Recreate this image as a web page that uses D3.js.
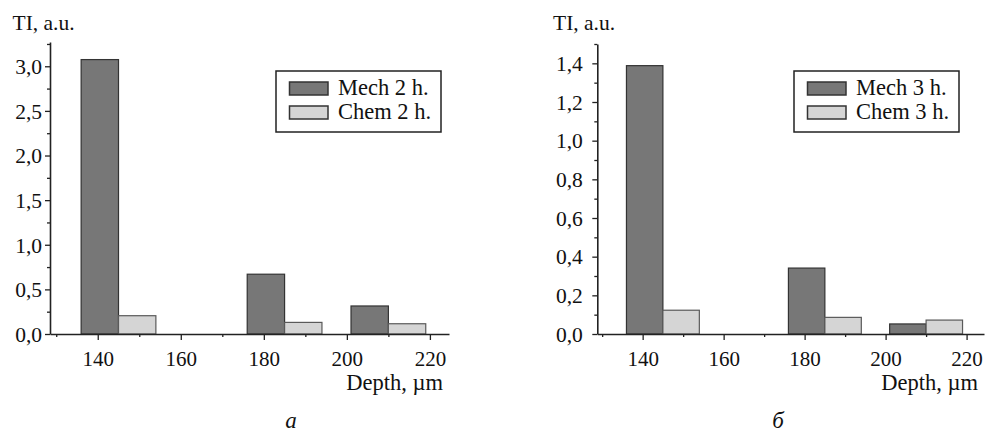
<!DOCTYPE html>
<html>
<head>
<meta charset="utf-8">
<script src="https://cdn.jsdelivr.net/npm/d3@7"></script>
<style>
  html, body { margin: 0; padding: 0; background: #fff; }
  svg { display: block; }
  svg text { font-family: "Liberation Serif", serif; fill: #111; }
</style>
</head>
<body>
<svg id="chart" width="986" height="432"></svg>
<script>
// ---------- DATA ----------
const groupDepths = [145, 185, 210];          // µm, boundary between the Mech / Chem bar of each group
const barWidthDepth = 9;                       // µm width of each bar

const mech2h = [3.075, 0.67, 0.314];
const chem2h = [0.205, 0.13, 0.115];
const mech3h = [1.388, 0.341, 0.052];
const chem3h = [0.123, 0.086, 0.072];

const seriesNamesA = ["Mech 2 h.", "Chem 2 h."];
const seriesNamesB = ["Mech 3 h.", "Chem 3 h."];

const xMajorTicks = [140, 160, 180, 200, 220];
const xMinorTicks = [130, 150, 170, 190, 210];
const xTickLabels = ["140", "160", "180", "200", "220"];

const yMajorTicksA = [0, 0.5, 1.0, 1.5, 2.0, 2.5, 3.0];
const yMinorTicksA = [0.25, 0.75, 1.25, 1.75, 2.25, 2.75, 3.25];
const yTickLabelsA = ["0,0", "0,5", "1,0", "1,5", "2,0", "2,5", "3,0"];

const yMajorTicksB = [0, 0.2, 0.4, 0.6, 0.8, 1.0, 1.2, 1.4];
const yMinorTicksB = [0.1, 0.3, 0.5, 0.7, 0.9, 1.1, 1.3, 1.5];
const yTickLabelsB = ["0,0", "0,2", "0,4", "0,6", "0,8", "1,0", "1,2", "1,4"];

const yTitle = "TI, a.u.";
const xTitle = "Depth, \u00b5m";
const panelLabels = ["\u0430", "\u0431"];

// ---------- STYLE ----------
const FONT = '"Liberation Serif", serif';
const MECH_FILL = "#777777", MECH_STROKE = "#333333";
const CHEM_FILL = "#d5d5d5", CHEM_STROKE = "#5a5a5a";
const AXIS = "#222";

const svg = d3.select("#chart");

function drawPanel(cfg) {
  const g = svg.append("g");
  const x = d3.scaleLinear().domain(cfg.xDomain).range([cfg.left, cfg.right]);
  const y = d3.scaleLinear().domain(cfg.yDomain).range([cfg.bottom, cfg.top]);

  const rows = groupDepths.map((d, i) => ({ d, mech: cfg.mech[i], chem: cfg.chem[i] }));
  g.selectAll("rect.mech").data(rows).join("rect")
    .attr("x", r => x(r.d - barWidthDepth))
    .attr("y", r => y(r.mech))
    .attr("width", r => x(r.d) - x(r.d - barWidthDepth))
    .attr("height", r => y(0) - y(r.mech))
    .attr("fill", MECH_FILL).attr("stroke", MECH_STROKE).attr("stroke-width", 1.2);
  g.selectAll("rect.chem").data(rows).join("rect")
    .attr("x", r => x(r.d))
    .attr("y", r => y(r.chem))
    .attr("width", r => x(r.d + barWidthDepth) - x(r.d))
    .attr("height", r => y(0) - y(r.chem))
    .attr("fill", CHEM_FILL).attr("stroke", CHEM_STROKE).attr("stroke-width", 1.2);

  const xAx = g.append("g").attr("transform", `translate(0,${cfg.bottom})`)
    .call(d3.axisBottom(x).tickValues(xMajorTicks).tickSize(6).tickSizeOuter(0)
      .tickFormat((d, i) => xTickLabels[i]));
  xAx.attr("font-family", null).attr("font-size", null);
  xAx.select(".domain").attr("stroke", AXIS).attr("stroke-width", 1.6);
  xAx.selectAll(".tick line").attr("stroke", AXIS).attr("stroke-width", 1.3);
  xAx.selectAll(".tick text").attr("y", 32).attr("dy", 0)
    .style("font-family", FONT).style("font-size", "21px").attr("fill", "#111");
  const xMin = g.append("g").attr("transform", `translate(0,${cfg.bottom})`)
    .call(d3.axisBottom(x).tickValues(xMinorTicks).tickSize(3).tickSizeOuter(0).tickFormat(""));
  xMin.select(".domain").remove();
  xMin.selectAll(".tick line").attr("stroke", AXIS).attr("stroke-width", 1.3);

  const yAx = g.append("g").attr("transform", `translate(${cfg.left},0)`)
    .call(d3.axisLeft(y).tickValues(cfg.yMajor).tickSize(5).tickSizeOuter(0)
      .tickPadding(cfg.yPad).tickFormat((d, i) => cfg.yLabels[i]));
  yAx.attr("font-family", null).attr("font-size", null);
  yAx.select(".domain").attr("stroke", AXIS).attr("stroke-width", 1.6);
  yAx.selectAll(".tick line").attr("stroke", AXIS).attr("stroke-width", 1.3);
  yAx.selectAll(".tick text").attr("dy", "0.34em")
    .style("font-family", FONT).style("font-size", "21.5px").attr("fill", "#111");
  const yMin = g.append("g").attr("transform", `translate(${cfg.left},0)`)
    .call(d3.axisLeft(y).tickValues(cfg.yMinor).tickSize(3).tickSizeOuter(0).tickFormat(""));
  yMin.select(".domain").remove();
  yMin.selectAll(".tick line").attr("stroke", AXIS).attr("stroke-width", 1.3);

  g.append("text").attr("x", cfg.yTitleX).attr("y", 30)
    .style("font-family", FONT).style("font-size", "21.5px").text(yTitle);
  g.append("text").attr("x", cfg.right - 6).attr("y", 390).attr("text-anchor", "end")
    .style("font-family", FONT).style("font-size", "22.5px").text(xTitle);
  g.append("text").attr("x", cfg.panelLabelX).attr("y", 428).attr("text-anchor", "middle")
    .style("font-family", FONT).style("font-size", "23px").style("font-style", "italic").text(cfg.panelLabel);

  const L = cfg.legend;
  g.append("rect").attr("x", L.x).attr("y", L.y).attr("width", L.w).attr("height", L.h)
    .attr("fill", "#fff").attr("stroke", "#222").attr("stroke-width", 1.5);
  const items = [
    { name: cfg.names[0], fill: MECH_FILL, stroke: MECH_STROKE },
    { name: cfg.names[1], fill: CHEM_FILL, stroke: "#333" }
  ];
  items.forEach((it, i) => {
    const yy = L.y + 11 + i * 24;
    g.append("rect").attr("x", L.x + 13.5).attr("y", yy).attr("width", 38.5).attr("height", 13)
      .attr("fill", it.fill).attr("stroke", it.stroke).attr("stroke-width", 1.5);
    g.append("text").attr("x", L.x + 62).attr("y", yy + 13)
      .style("font-family", FONT).style("font-size", "22.5px").text(it.name);
  });
}

drawPanel({
  left: 50, right: 449, top: 42, bottom: 334,
  xDomain: [128.5, 224.6], yDomain: [0, 3.272],
  yMajor: yMajorTicksA, yMinor: yMinorTicksA, yLabels: yTickLabelsA, yPad: 3,
  mech: mech2h, chem: chem2h, names: seriesNamesA,
  yTitleX: 12.5, panelLabelX: 291, panelLabel: panelLabels[0],
  legend: { x: 276, y: 71, w: 165, h: 61 }
});

drawPanel({
  left: 597.3, right: 984, top: 44, bottom: 334,
  xDomain: [128.8, 224.3], yDomain: [0, 1.5],
  yMajor: yMajorTicksB, yMinor: yMinorTicksB, yLabels: yTickLabelsB, yPad: 9.5,
  mech: mech3h, chem: chem3h, names: seriesNamesB,
  yTitleX: 553, panelLabelX: 778, panelLabel: panelLabels[1],
  legend: { x: 794, y: 71, w: 165, h: 61 }
});
</script>
</body>
</html>
